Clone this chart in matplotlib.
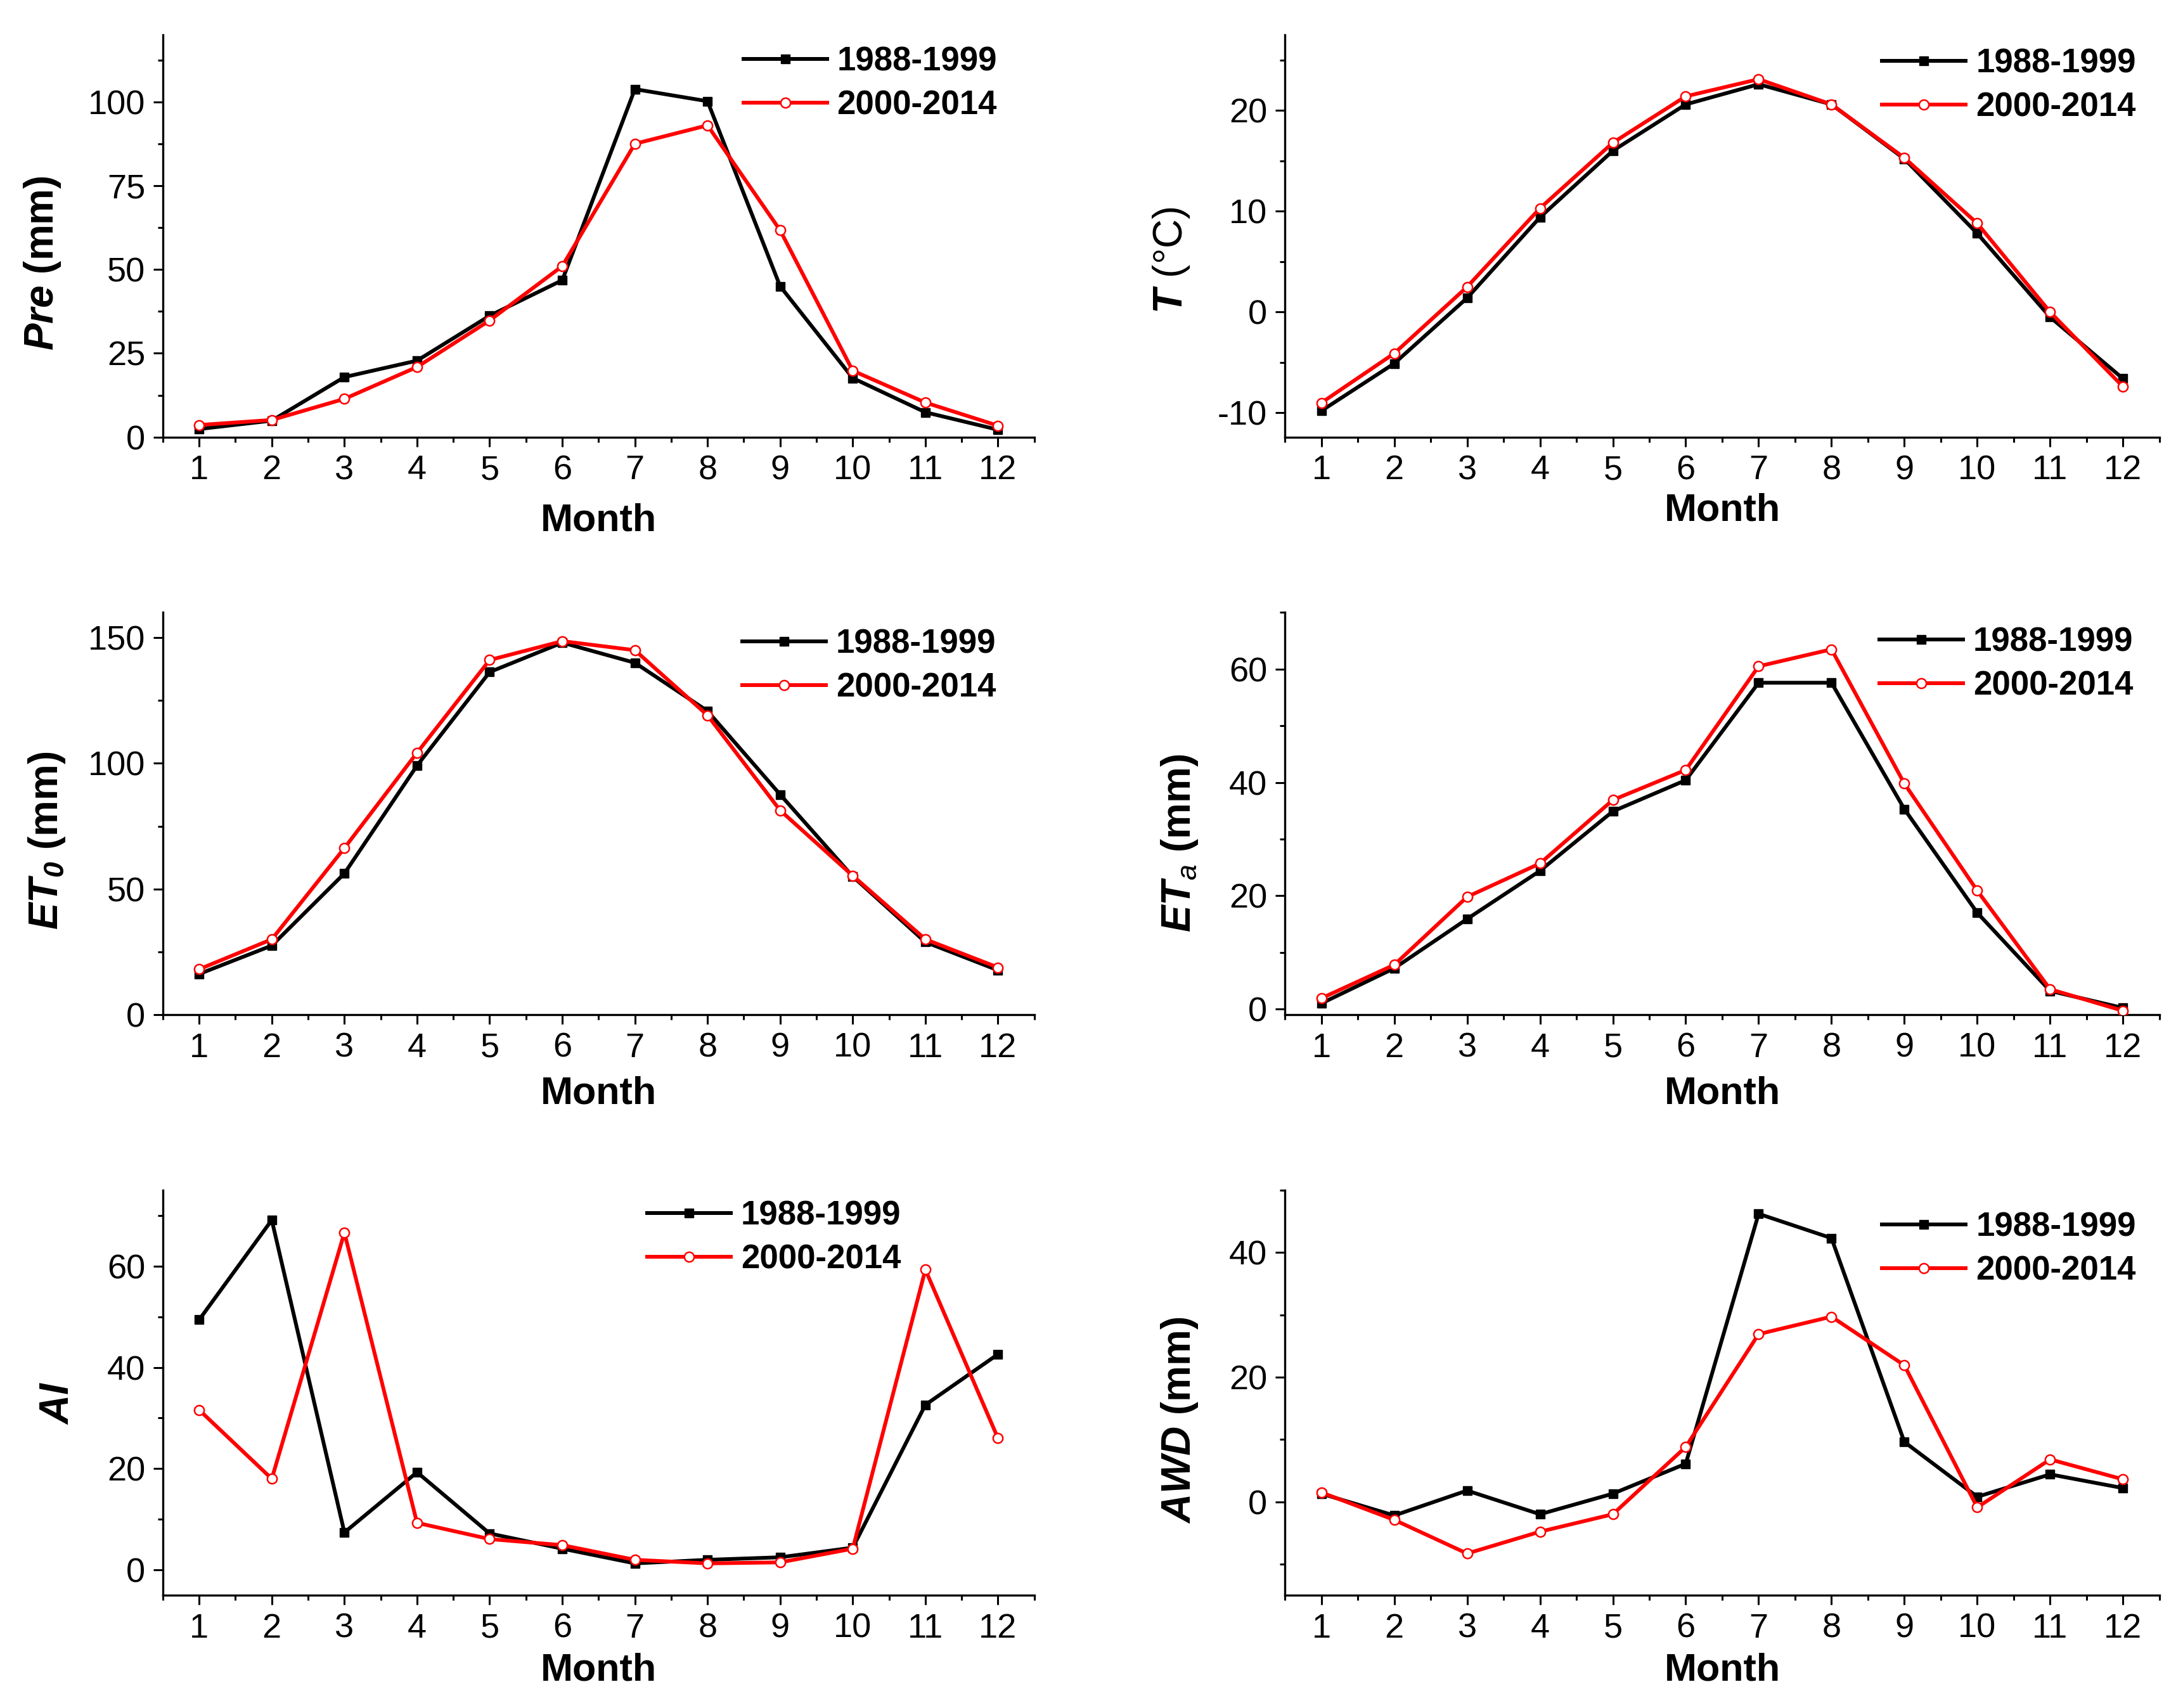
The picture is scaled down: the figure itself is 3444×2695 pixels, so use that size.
import matplotlib
matplotlib.use("Agg")
import matplotlib.pyplot as plt
from matplotlib import font_manager
from matplotlib.ticker import MultipleLocator

# fonts
names = {f.name for f in font_manager.fontManager.ttflist}
tick_font = 'Liberation Sans Narrow' if 'Liberation Sans Narrow' in names else 'Liberation Sans'
tick_size = 42 if tick_font == 'Liberation Sans Narrow' else 39

plt.rcParams['font.family'] = ['Liberation Sans', 'DejaVu Sans']
plt.rcParams['axes.unicode_minus'] = False
plt.rcParams['mathtext.fontset'] = 'custom'
plt.rcParams['mathtext.rm'] = 'Liberation Sans'
plt.rcParams['mathtext.it'] = 'Liberation Sans:italic'
plt.rcParams['mathtext.bf'] = 'Liberation Sans:bold'
plt.rcParams['mathtext.bfit'] = 'Liberation Sans:italic:bold'

# data
months = [1, 2, 3, 4, 5, 6, 7, 8, 9, 10, 11, 12]
labels = ['1988-1999', '2000-2014']

pre_a = [2.4, 4.9, 17.9, 22.8, 36.2, 46.8, 103.8, 100.2, 45.0, 17.6, 7.4, 2.2]
pre_b = [3.6, 5.1, 11.4, 20.9, 34.8, 51.0, 87.5, 93.0, 61.7, 19.8, 10.3, 3.4]

t_a = [-9.8, -5.1, 1.4, 9.4, 16.0, 20.6, 22.6, 20.6, 15.2, 7.8, -0.5, -6.6]
t_b = [-9.0, -4.1, 2.5, 10.3, 16.8, 21.4, 23.1, 20.6, 15.3, 8.8, 0.0, -7.4]

et0_a = [16.2, 27.5, 56.2, 99.1, 136.3, 148.0, 140.0, 120.8, 87.6, 55.0, 28.9, 17.7]
et0_b = [18.1, 30.0, 66.3, 104.2, 141.1, 148.6, 145.0, 119.1, 81.3, 55.3, 30.0, 18.8]

eta_a = [1.0, 7.2, 15.9, 24.4, 34.9, 40.4, 57.6, 57.6, 35.3, 17.0, 3.2, 0.2]
eta_b = [1.9, 7.8, 19.8, 25.7, 36.9, 42.2, 60.5, 63.5, 39.8, 20.9, 3.5, -0.3]

ai_a = [49.4, 69.1, 7.4, 19.3, 7.2, 4.2, 1.3, 2.0, 2.5, 4.4, 32.6, 42.6]
ai_b = [31.6, 18.0, 66.6, 9.3, 6.1, 4.9, 2.0, 1.3, 1.5, 4.2, 59.3, 26.0]

awd_a = [1.3, -2.2, 1.8, -2.0, 1.3, 6.1, 46.2, 42.3, 9.6, 0.8, 4.4, 2.2]
awd_b = [1.5, -2.9, -8.3, -4.8, -2.0, 8.8, 26.9, 29.7, 21.9, -0.9, 6.8, 3.6]

panels = [
    # series a, series b, ylabel, ylim, major, minor, axes rect, legend anchor, ylabel pos, xlabel y, weight
    (pre_a, pre_b, r'$\mathbfit{Pre}$ (mm)', (0, 120), 25, 12.5,
     [0.0746, 0.7441, 0.3992, 0.2355], (0.666, 0.972), (-0.115, 0.433), -0.163, 'bold'),
    (t_a, t_b, r'$\mathbfit{T}$ (°C)', (-12.4, 27.5), 10, 5,
     [0.5886, 0.7441, 0.4006, 0.2355], (0.683, 0.968), (-0.107, 0.44), -0.138, 'normal'),
    (et0_a, et0_b, r'$\mathbfit{ET}_{\mathbfit{0}}$ (mm)', (0, 160), 50, 25,
     [0.0746, 0.4059, 0.3992, 0.2355], (0.665, 0.961), (-0.11, 0.433), -0.152, 'bold'),
    (eta_a, eta_b, r'$\mathbfit{ET}_{\mathit{a}}$ (mm)', (-1, 70), 20, 10,
     [0.5886, 0.4059, 0.4006, 0.2355], (0.680, 0.965), (-0.097, 0.426), -0.152, 'bold'),
    (ai_a, ai_b, r'$\mathbfit{AI}$', (-5, 75), 20, 10,
     [0.0746, 0.0660, 0.3992, 0.2372], (0.556, 0.975), (-0.099, 0.474), -0.141, 'bold'),
    (awd_a, awd_b, r'$\mathbfit{AWD}$ (mm)', (-15, 50), 20, 10,
     [0.5886, 0.0660, 0.4006, 0.2372], (0.683, 0.948), (-0.097, 0.433), -0.141, 'bold'),
]

fig = plt.figure(figsize=(34.44, 26.95), dpi=100)

for a, b, ylab, ylim, major, minor, rect, leg_xy, ylab_xy, xlab_y, wt in panels:
    ax = fig.add_axes(rect)
    ax.plot(months, a, color='black', lw=4.3, marker='s', ms=10,
            mfc='black', mec='black', label=labels[0], zorder=3)
    ax.plot(months, b, color='red', lw=4.3, marker='o', ms=11,
            mfc='white', mec='red', mew=1.8, label=labels[1], zorder=4)

    ax.set_xlim(0.5, 12.5)
    ax.set_ylim(*ylim)
    ax.set_xticks(months)
    ax.xaxis.set_minor_locator(MultipleLocator(0.5))
    ax.yaxis.set_major_locator(MultipleLocator(major))
    ax.yaxis.set_minor_locator(MultipleLocator(minor))

    for s in ['top', 'right']:
        ax.spines[s].set_visible(False)
    for s in ['left', 'bottom']:
        ax.spines[s].set_linewidth(2.4)

    ax.tick_params(which='major', direction='out', length=11, width=2.2, pad=9,
                   labelsize=tick_size)
    ax.tick_params(which='minor', direction='out', length=6, width=2.2)
    for lab in ax.get_xticklabels() + ax.get_yticklabels():
        lab.set_fontfamily(tick_font)

    ax.set_xlabel('Month', fontsize=44, fontweight='bold')
    ax.xaxis.set_label_coords(0.5, xlab_y)
    ax.set_ylabel(ylab, fontsize=46, fontweight=wt)
    ax.yaxis.set_label_coords(*ylab_xy)

    ax.legend(loc='upper left', bbox_to_anchor=leg_xy, frameon=False,
              borderpad=0, borderaxespad=0, handlelength=2.5, handletextpad=0.3,
              labelspacing=0.36, prop={'weight': 'bold', 'size': 38})

fig.savefig('out.png', dpi=100)
